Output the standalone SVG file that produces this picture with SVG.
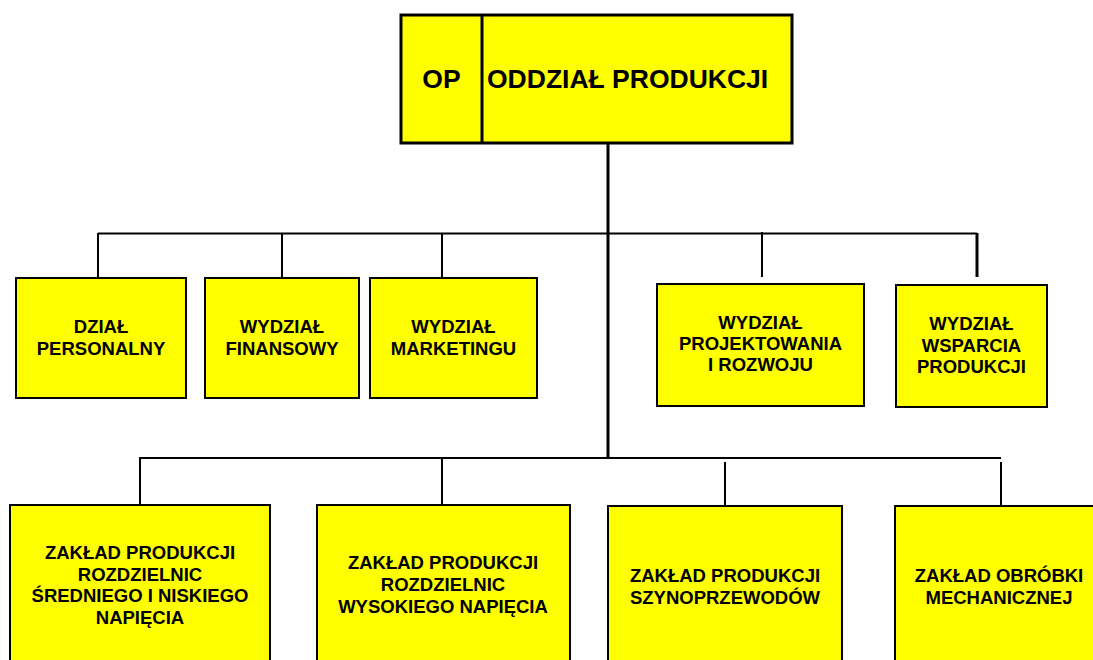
<svg xmlns="http://www.w3.org/2000/svg" width="1093" height="660" viewBox="0 0 1093 660">
<style>
.box{fill:#FFFF00;stroke:#000;stroke-width:2}
.top{fill:#FFFF00;stroke:#000;stroke-width:3}
.t{font-family:"Liberation Sans",Arial,sans-serif;font-weight:bold;font-size:18.5px;fill:#000;text-anchor:middle}
.h{font-family:"Liberation Sans",Arial,sans-serif;font-weight:bold;font-size:26.5px;fill:#000}
.ln{stroke:#000;stroke-width:2;fill:none}
.tr{stroke:#000;stroke-width:3;fill:none}
</style>
<rect width="1093" height="660" fill="#fff"/>
<g id="connectors">
<line class="tr" x1="608" y1="143" x2="608" y2="458"/>
<line class="ln" x1="98" y1="233.5" x2="977" y2="233.5"/>
<line class="ln" x1="98" y1="233" x2="98" y2="277"/>
<line class="ln" x1="282" y1="233" x2="282" y2="277"/>
<line class="ln" x1="442" y1="233" x2="442" y2="277"/>
<line class="ln" x1="762" y1="232" x2="762" y2="277"/>
<line class="tr" x1="977" y1="233" x2="977" y2="277"/>
<line class="ln" x1="140" y1="458" x2="1001" y2="458"/>
<line class="ln" x1="140" y1="457" x2="140" y2="506"/>
<line class="ln" x1="442" y1="457" x2="442" y2="506"/>
<line class="ln" x1="725" y1="462" x2="725" y2="507"/>
<line class="ln" x1="1001" y1="462" x2="1001" y2="507"/>
</g>
<g id="node-op">
<rect class="top" x="401" y="15" width="391" height="128"/>
<line x1="482" y1="15" x2="482" y2="143" stroke="#000" stroke-width="3"/>
<text class="h" x="441.5" y="88" text-anchor="middle">OP</text>
<text class="h" x="487" y="88">ODDZIAŁ PRODUKCJI</text>
</g>
<g id="node-personalny">
<rect class="box" x="16" y="278" width="170" height="120"/>
<text class="t" x="101" y="333">DZIAŁ</text>
<text class="t" x="101" y="355">PERSONALNY</text>
</g>
<g id="node-finansowy">
<rect class="box" x="205" y="278" width="154" height="120"/>
<text class="t" x="282" y="333">WYDZIAŁ</text>
<text class="t" x="282" y="355">FINANSOWY</text>
</g>
<g id="node-marketingu">
<rect class="box" x="370" y="278" width="167" height="120"/>
<text class="t" x="453.5" y="333">WYDZIAŁ</text>
<text class="t" x="453.5" y="355">MARKETINGU</text>
</g>
<g id="node-projektowania">
<rect class="box" x="657" y="284" width="207" height="122"/>
<text class="t" x="760.5" y="328.5">WYDZIAŁ</text>
<text class="t" x="760.5" y="350">PROJEKTOWANIA</text>
<text class="t" x="760.5" y="371">I ROZWOJU</text>
</g>
<g id="node-wsparcia">
<rect class="box" x="896" y="285" width="151" height="122"/>
<text class="t" x="971.5" y="330">WYDZIAŁ</text>
<text class="t" x="971.5" y="351.5">WSPARCIA</text>
<text class="t" x="971.5" y="373">PRODUKCJI</text>
</g>
<g id="node-zaklad-sn">
<rect class="box" x="10" y="505" width="260" height="170"/>
<text class="t" x="140" y="559">ZAKŁAD PRODUKCJI</text>
<text class="t" x="140" y="581">ROZDZIELNIC</text>
<text class="t" x="140" y="602">ŚREDNIEGO I NISKIEGO</text>
<text class="t" x="140" y="624">NAPIĘCIA</text>
</g>
<g id="node-zaklad-wn">
<rect class="box" x="317" y="505" width="253" height="170"/>
<text class="t" x="443" y="569">ZAKŁAD PRODUKCJI</text>
<text class="t" x="443" y="591">ROZDZIELNIC</text>
<text class="t" x="443" y="612.5">WYSOKIEGO NAPIĘCIA</text>
</g>
<g id="node-zaklad-szyn">
<rect class="box" x="608" y="506" width="234" height="170"/>
<text class="t" x="725" y="581.5">ZAKŁAD PRODUKCJI</text>
<text class="t" x="725" y="603.5">SZYNOPRZEWODÓW</text>
</g>
<g id="node-zaklad-mech">
<rect class="box" x="895" y="506" width="210" height="170"/>
<text class="t" x="999" y="581.5">ZAKŁAD OBRÓBKI</text>
<text class="t" x="999" y="604">MECHANICZNEJ</text>
</g>
</svg>
